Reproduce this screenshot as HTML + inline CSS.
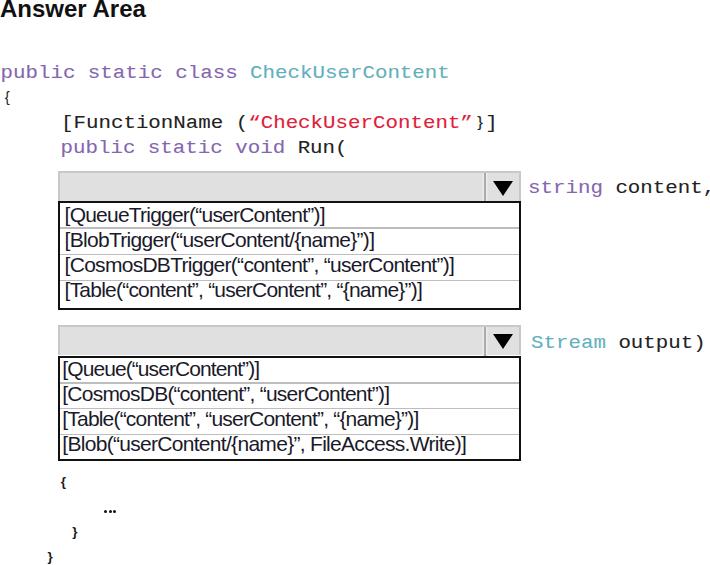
<!DOCTYPE html>
<html><head><meta charset="utf-8">
<style>
html,body{margin:0;padding:0;background:#fff;width:710px;height:565px;overflow:hidden;position:relative}
.t{position:absolute;white-space:pre;line-height:1}
.title{font-family:"Liberation Sans",sans-serif;font-weight:bold;font-size:24px;color:#111;left:0px;top:-2.6px}
.c{font-family:"Liberation Mono",monospace;font-size:20.8px;color:#222;transform:scaleY(0.85);transform-origin:0 15.94px;-webkit-text-stroke:0.1px currentColor}
.k{color:#8466b0}
.tl{color:#62b0bc}
.r{color:#e0203a}
.s{font-family:"Liberation Sans",sans-serif;font-size:21px;letter-spacing:-0.85px;color:#1a1a2a}
.hdr{position:absolute;left:58px;width:459px;height:28px;background:#e0e0e0;border:2px solid #c8c8c8;border-bottom:none}
.sep{position:absolute;width:2px;background:#ababab;box-shadow:-1.5px 0 0 #ececec,1.5px 0 0 #ececec}
.tri{position:absolute;width:0;height:0;border-left:10.3px solid transparent;border-right:10.3px solid transparent;border-top:15.5px solid #000}
.list{position:absolute;left:58px;width:459px;border:2px solid #111}
.row{position:absolute;left:0;right:0;height:1.5px;background:#bdbdbd}
.br{font-family:"Liberation Sans",sans-serif;font-size:13.5px;font-weight:bold;color:#1a1a1a}
</style></head><body>
<div class="t title">Answer Area</div>

<div class="t c" style="left:0.5px;top:63px"><span class="k">public static class </span><span class="tl">CheckUserContent</span></div>
<div class="t br" style="left:4.8px;top:89.1px;font-size:15px;font-weight:normal;color:#222">{</div>
<div class="t c" style="left:61px;top:112.8px">[FunctionName (<span class="r">“CheckUserContent”</span><span style="display:inline-block;width:12.48px;font-family:'Liberation Sans',sans-serif;font-size:17px;text-indent:4.3px;position:relative;top:-1px">}</span>]</div>
<div class="t c" style="left:60.5px;top:138.2px"><span class="k">public static void </span>Run(</div>

<!-- dropdown 1 -->
<div class="hdr" style="top:171px"></div>
<div class="sep" style="left:484.3px;top:173px;height:28px"></div>
<div class="tri" style="left:492.5px;top:180.5px"></div>
<div class="list" style="top:201px;height:105px">
  <div class="row" style="top:24px"></div>
  <div class="row" style="top:50.5px"></div>
  <div class="row" style="top:76.7px"></div>
</div>
<div class="t s" style="left:64.6px;top:203.7px;letter-spacing:-0.78px">[QueueTrigger(“userContent”)]</div>
<div class="t s" style="left:64.6px;top:228.5px;letter-spacing:-0.70px">[BlobTrigger(“userContent/{name}”)]</div>
<div class="t s" style="left:64.6px;top:253.6px;letter-spacing:-0.72px">[CosmosDBTrigger(“content”, “userContent”)]</div>
<div class="t s" style="left:64.6px;top:278.8px;letter-spacing:-0.78px">[Table(“content”, “userContent”, “{name}”)]</div>
<div class="t c" style="left:528px;top:177.8px"><span class="k">string </span>content,</div>

<!-- dropdown 2 -->
<div class="hdr" style="top:325px"></div>
<div class="sep" style="left:484.3px;top:327px;height:29px"></div>
<div class="tri" style="left:492.5px;top:334px"></div>
<div class="list" style="top:356px;height:100.5px">
  <div class="row" style="top:24.3px"></div>
  <div class="row" style="top:49.8px"></div>
  <div class="row" style="top:75.5px"></div>
</div>
<div class="t s" style="left:62.3px;top:357.6px;letter-spacing:-0.92px">[Queue(“userContent”)]</div>
<div class="t s" style="left:62.3px;top:382.5px;letter-spacing:-0.77px">[CosmosDB(“content”, “userContent”)]</div>
<div class="t s" style="left:62.3px;top:407.8px;letter-spacing:-0.81px">[Table(“content”, “userContent”, “{name}”)]</div>
<div class="t s" style="left:62.3px;top:432.5px;letter-spacing:-0.70px">[Blob(“userContent/{name}”, FileAccess.Write)]</div>
<div class="t c" style="left:531px;top:332.7px"><span class="tl">Stream </span>output)</div>

<div class="t br" style="left:60.7px;top:475px">{</div>
<div style="position:absolute;left:104.2px;top:509.5px;width:3px;height:3px;border-radius:50%;background:#111"></div><div style="position:absolute;left:108.8px;top:509.5px;width:3px;height:3px;border-radius:50%;background:#111"></div><div style="position:absolute;left:113.2px;top:509.5px;width:3px;height:3px;border-radius:50%;background:#111"></div>
<div class="t br" style="left:72.2px;top:524.5px">}</div>
<div class="t br" style="left:47.4px;top:550px">}</div>
</body></html>
